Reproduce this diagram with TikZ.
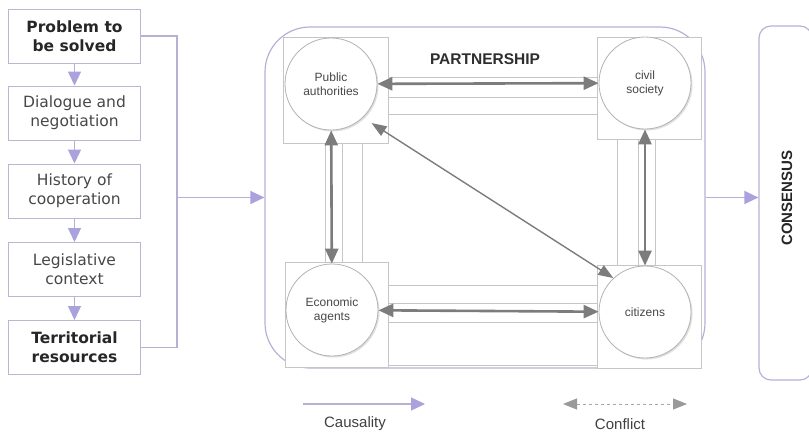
\documentclass[tikz,border=0pt]{standalone}
\usepackage{fontspec}
\setmainfont{Liberation Sans}
\newfontfamily\verd{DejaVu Sans}
\usetikzlibrary{arrows.meta,shadows}
\definecolor{lav}{HTML}{A9A2DC}
\definecolor{lavline}{HTML}{B4B2D4}
\definecolor{boxline}{HTML}{B8B8D4}
\definecolor{arrgray}{HTML}{7C7C7C}
\begin{document}
\begin{tikzpicture}[x=1pt,y=-1pt,
  leftbox/.style={draw=boxline, line width=1pt, minimum width=132pt, minimum height=54pt,
    align=center, font=\verd\fontsize{15.5}{19}\selectfont, text=black!72, inner sep=0pt},
  causal/.style={draw=lavline, line width=1.3pt,
    -{Triangle[length=14pt,width=13pt,color=lav,fill=lav]}},
  actor/.style={circle, draw=gray!60, line width=0.8pt, fill=white, minimum size=92pt,
    inner sep=0pt, align=center, font=\fontsize{12}{14}\selectfont, text=black!72,
    drop shadow={opacity=0.25, shadow xshift=1.5pt, shadow yshift=-1.5pt}},
  strip/.style={draw=gray!45, line width=0.7pt, fill=white},
  conflict/.style={draw=arrgray, line width=2.6pt,
    {Triangle[length=15pt,width=13pt]}-{Triangle[length=15pt,width=13pt]}},
  legtext/.style={font=\fontsize{15}{17}\selectfont, text=black!75},
]
\useasboundingbox (0,0) rectangle (809,432);

% left column
\node[leftbox, font=\verd\bfseries\fontsize{15.5}{19}\selectfont, text=black!85] (b1) at (74.5,36) {Problem to\\be solved};
\node[leftbox] (b2) at (74.5,113) {Dialogue and\\negotiation};
\node[leftbox] (b3) at (74.5,191) {History of\\cooperation};
\node[leftbox] (b4) at (74.5,269.5) {Legislative\\context};
\node[leftbox, font=\verd\bfseries\fontsize{15.5}{19}\selectfont, text=black!85] (b5) at (74.5,347.5) {Territorial\\resources};
\draw[causal] (b1) -- (b2);
\draw[causal] (b2) -- (b3);
\draw[causal] (b3) -- (b4);
\draw[causal] (b4) -- (b5);

% partnership frame
\node[draw=lavline, line width=1.2pt, rounded corners=45pt, minimum width=440pt,
  minimum height=341pt, inner sep=0pt] (part) at (485,197.5) {};
\coordinate (j) at (177,197.5);
\draw[draw=lavline, line width=1.3pt] (b1.east) -| (j);
\draw[draw=lavline, line width=1.3pt] (b5.east) -| (j);
\draw[causal] (j) -- (part.west);

% corner squares and strips
\draw[strip] (283,37) rectangle (388,143);
\draw[strip] (597,37) rectangle (701,139);
\draw[strip] (285,262) rectangle (388,367);
\draw[strip] (597,265) rectangle (701,368);
\draw[strip] (388,77) rectangle (597,97);
\draw[strip] (388,97) rectangle (597,114);
\draw[strip] (388,285) rectangle (597,303);
\draw[strip] (388,303) rectangle (597,322);
\draw[strip] (388,322) rectangle (597,365);
\draw[strip] (325,143) rectangle (342,262);
\draw[strip] (342,143) rectangle (362,262);
\draw[strip] (617,139) rectangle (638,265);
\draw[strip] (638,139) rectangle (655,265);

\node[font=\bfseries\fontsize{15.5}{17}\selectfont, text=black!82] (ptitle) at (485,59) {PARTNERSHIP};

% actors
\node[actor] (pa) at (331,84) {Public\\authorities};
\node[actor] (cs) at (645,83) {civil\\society};
\node[actor] (ea) at (332,310) {Economic\\agents};
\node[actor] (ci) at (645,312) {citizens};

\draw[conflict] (pa) -- (cs);
\draw[conflict] (ea) -- (ci);
\draw[conflict] (pa) -- (ea);
\draw[conflict] (cs) -- (ci);
\draw[draw=arrgray, line width=1.4pt, {Triangle[length=15pt,width=11pt]}-{Triangle[length=15pt,width=11pt]}]
  (pa.-42) ++(6,8) -- (ci.133);

% consensus
\node[draw=lavline, line width=1.2pt, rounded corners=12pt, minimum width=53pt,
  minimum height=354pt, inner sep=0pt] (cons) at (785.5,203) {};
\node[font=\bfseries\fontsize{15}{17}\selectfont, text=black!85, rotate=90] (constext) at (787,198) {CONSENSUS};
\draw[causal] (part.east) -- (cons.west |- part.east);

% legend
\coordinate (c1) at (303,404);
\coordinate (c2) at (425,404);
\draw[causal] (c1) -- (c2);
\node[legtext] (lc) at (355,424) {Causality};
\coordinate (d1) at (563,404);
\coordinate (d2) at (687,404);
\draw[draw=gray!70, dashed, line width=1pt, {Triangle[length=14pt,width=11pt,color=gray!80,fill=gray!80]}-{Triangle[length=14pt,width=11pt,color=gray!80,fill=gray!80]}] (d1) -- (d2);
\node[legtext] (lf) at (620,424) {Conflict};
\end{tikzpicture}
\end{document}
